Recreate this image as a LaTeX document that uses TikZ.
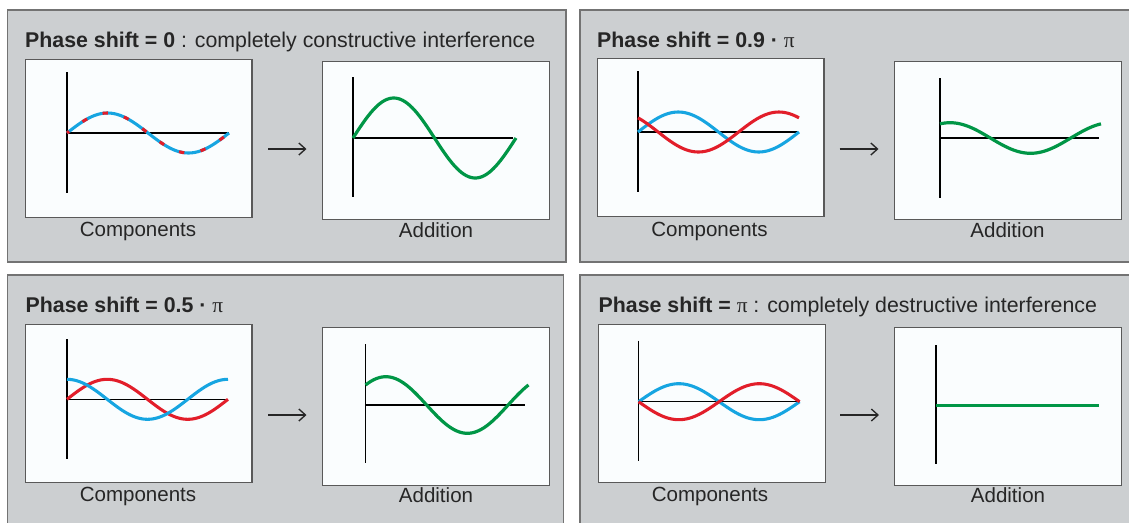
\documentclass[tikz,border=0pt]{standalone}
\usepackage{fontspec}
\setmainfont{Liberation Sans}
\newfontfamily\greekfont{Liberation Serif}
\usetikzlibrary{arrows.meta}
\definecolor{panelgray}{RGB}{204,207,209}
\definecolor{boxwhite}{RGB}{250,253,254}
\definecolor{inkgray}{RGB}{38,38,38}
\definecolor{wavered}{RGB}{226,30,42}
\definecolor{waveblue}{RGB}{22,165,225}
\definecolor{wavegreen}{RGB}{0,150,70}
\newcommand{\pisym}{{\greekfont\mdseries π}}
% one period of amp*sin(x+phase) over the given length
\newcommand{\sinecurve}[3]{plot[domain=0:360,samples=73,smooth] ({\x/360*#3},{-(#1)*sin(\x+#2)})}
\begin{document}
\begin{tikzpicture}[x=0.75pt,y=-0.75pt,line width=1pt,
  every node/.style={text=inkgray,inner sep=0pt},
  panel/.style={fill=panelgray,draw=black!55,line width=1.2pt},
  plotbox/.style={draw=black!65,fill=boxwhite,line width=1pt,anchor=north west,minimum width=170pt,minimum height=118.5pt},
  heading/.style={anchor=base west,font=\fontsize{16}{19}\selectfont},
  caption/.style={anchor=base,font=\fontsize{15.4}{18}\selectfont},
  axis/.style={draw=black,line width=1pt},
  flow/.style={-{Straight Barb[length=5pt,width=9pt]},line width=1pt,draw=inkgray},
  bluewave/.style={draw=waveblue,line width=2.3pt},
  redwave/.style={draw=wavered,line width=2.3pt},
  greenwave/.style={draw=wavegreen,line width=2.4pt}]
\useasboundingbox (0,0) rectangle (1129,522);
\clip (0,0) rectangle (1129,522);
% phase shift 0
\begin{scope}[shift={(7.5,10)}]
\draw[panel] (0,0) rectangle (558.5,252);
\node[heading] (t1) at (17,37) {\textbf{Phase shift = 0} : completely constructive interference};
\node[plotbox] (c1) at (17,48.5) {};
\node[plotbox] (a1) at (314.5,50.5) {};
\node[caption] (lc1) at (130.5,226.5) {Components};
\node[caption] (la1) at (428.5,227.5) {Addition};
\coordinate (s1) at (260.5,139);
\coordinate (e1) at (299,139);
\draw[flow] (s1) -- (e1);
\begin{scope}[shift={(59.5,123)}]
\draw[axis] (0,-61) -- (0,60) (0,0) -- (162,0);
\draw[bluewave] \sinecurve{20}{0}{162};
\draw[redwave,dash pattern=on 4pt off 12.4pt,dash phase=2pt] \sinecurve{20}{0}{162};
\end{scope}
\begin{scope}[shift={(345.5,128)}]
\draw[axis] (0,-61) -- (0,59) (0,0) -- (160,0);
\draw[greenwave] \sinecurve{40}{0}{163};
\end{scope}
\end{scope}
% phase shift 0.9 pi
\begin{scope}[shift={(580,10)}]
\draw[panel] (0,0) rectangle (560,252);
\node[heading] (t2) at (16.5,37) {\textbf{Phase shift = 0.9 ·} \pisym};
\node[plotbox] (c2) at (16.5,47.5) {};
\node[plotbox] (a2) at (314,50.5) {};
\node[caption] (lc2) at (129.5,226.5) {Components};
\node[caption] (la2) at (427.5,227.5) {Addition};
\coordinate (s2) at (259.5,139);
\coordinate (e2) at (298.5,139);
\draw[flow] (s2) -- (e2);
\begin{scope}[shift={(58,122)}]
\draw[axis] (0,-61) -- (0,60) (0,0) -- (160,0);
\draw[bluewave] \sinecurve{20}{0}{161};
\draw[redwave] \sinecurve{20}{135}{161};
\end{scope}
\begin{scope}[shift={(360,128)}]
\draw[axis] (0,-60) -- (0,60) (0,0) -- (159,0);
\draw[greenwave] \sinecurve{15.3}{67.5}{161};
\end{scope}
\end{scope}
% phase shift 0.5 pi
\begin{scope}[shift={(7.5,275)}]
\draw[panel] (0,0) rectangle (556,260);
\node[heading] (t3) at (17.5,37) {\textbf{Phase shift = 0.5 ·} \pisym};
\node[plotbox] (c3) at (17.3,49) {};
\node[plotbox] (a3) at (314.5,51.5) {};
\node[caption] (lc3) at (130.5,226.5) {Components};
\node[caption] (la3) at (428.5,227.5) {Addition};
\coordinate (s3) at (260.5,140);
\coordinate (e3) at (299,140);
\draw[flow] (s3) -- (e3);
\begin{scope}[shift={(59.5,124.3)}]
\draw[axis] (0,-60) -- (0,60) (0,0) -- (161,0);
\draw[redwave] \sinecurve{20}{0}{161};
\draw[bluewave] \sinecurve{20}{90}{161};
\end{scope}
\begin{scope}[shift={(358,130)}]
\draw[axis] (0,-61) -- (0,58) (0,0) -- (159,0);
\draw[greenwave] \sinecurve{28.3}{45}{163};
\end{scope}
\end{scope}
% phase shift pi
\begin{scope}[shift={(580,275)}]
\draw[panel] (0,0) rectangle (560,260);
\node[heading] (t4) at (18,37) {\textbf{Phase shift =} \pisym{} : completely destructive interference};
\node[plotbox] (c4) at (18,49) {};
\node[plotbox] (a4) at (314,51.5) {};
\node[caption] (lc4) at (130,226.5) {Components};
\node[caption] (la4) at (428,227.5) {Addition};
\coordinate (s4) at (260,140);
\coordinate (e4) at (299,140);
\draw[flow] (s4) -- (e4);
\begin{scope}[shift={(58.6,126.7)}]
\draw[axis] (0,-61) -- (0,59) (0,0) -- (161,0);
\draw[bluewave] \sinecurve{18}{0}{161};
\draw[redwave] \sinecurve{-18}{0}{161};
\end{scope}
\begin{scope}[shift={(356,130.3)}]
\draw[axis] (0,-60) -- (0,59);
\draw[greenwave] (0,0) -- (162.6,0);
\end{scope}
\end{scope}
\end{tikzpicture}
\end{document}
